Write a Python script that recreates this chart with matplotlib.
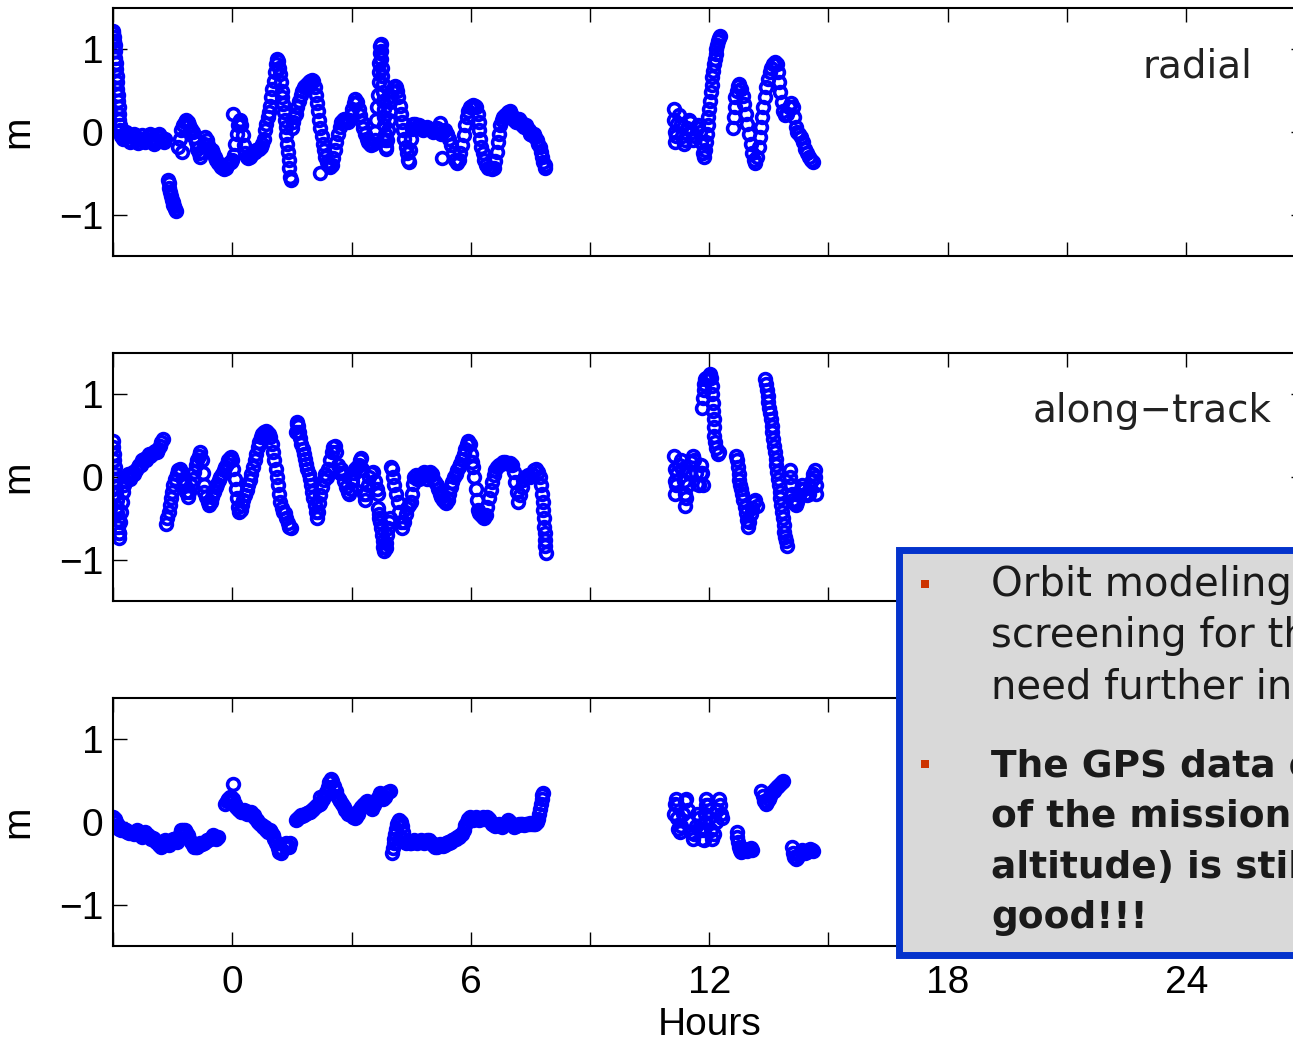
import numpy as np
import matplotlib
matplotlib.use("Agg")
import matplotlib.pyplot as plt
from matplotlib.patches import Rectangle

plt.rcParams['font.family'] = ['Liberation Sans', 'DejaVu Sans']

# (hour, metres)
radial = [
    (-3.00, 1.22), (-2.99, 1.20), (-2.98, 1.15), (-2.97, 1.10), (-2.96, 1.05), (-2.95, 0.98), (-2.94, 0.90),
    (-2.93, 0.84), (-2.92, 0.76), (-2.91, 0.68), (-2.90, 0.60), (-2.89, 0.52), (-2.88, 0.45), (-2.87, 0.38),
    (-2.86, 0.30), (-2.85, 0.22), (-2.84, 0.15), (-2.83, 0.08), (-2.82, 0.02), (-2.80, -0.05), (-2.76, -0.08),
    (-2.72, -0.02), (-2.68, 0.00), (-2.64, -0.05), (-2.60, -0.10), (-2.56, -0.12), (-2.52, -0.06), (-2.48, -0.02),
    (-2.44, -0.05), (-2.40, -0.10), (-2.36, -0.13), (-2.32, -0.08), (-2.28, -0.04), (-2.24, -0.08), (-2.20, -0.12),
    (-2.16, -0.10), (-2.12, -0.05), (-2.08, -0.03), (-2.04, -0.08), (-2.00, -0.12), (-1.96, -0.14), (-1.92, -0.10),
    (-1.88, -0.05), (-1.84, -0.02), (-1.80, -0.06), (-1.76, -0.10), (-1.72, -0.12), (-1.68, -0.08),
    (-1.62, -0.58), (-1.60, -0.62), (-1.58, -0.68), (-1.56, -0.72), (-1.54, -0.78), (-1.52, -0.82), (-1.50, -0.85),
    (-1.48, -0.88), (-1.46, -0.90), (-1.44, -0.93), (-1.42, -0.96),
    (-1.36, -0.18), (-1.32, -0.08), (-1.28, 0.02), (-1.24, 0.08), (-1.20, 0.12), (-1.16, 0.14), (-1.12, 0.12),
    (-1.08, 0.08), (-1.04, 0.04), (-1.00, 0.00), (-0.96, -0.06), (-0.92, -0.12), (-0.88, -0.20), (-0.84, -0.26),
    (-0.80, -0.30), (-0.76, -0.24), (-0.72, -0.14), (-0.68, -0.06), (-0.64, -0.10), (-0.60, -0.16), (-0.56, -0.20),
    (-0.52, -0.22), (-0.48, -0.25), (-0.44, -0.30), (-0.40, -0.34), (-0.36, -0.38), (-0.32, -0.40), (-0.28, -0.42),
    (-0.24, -0.44), (-0.20, -0.45), (-0.16, -0.43), (-0.12, -0.40), (-0.08, -0.38), (-0.04, -0.36), (0.00, -0.34),
    (0.04, -0.28), (0.08, -0.15), (0.11, -0.02), (0.14, 0.08), (0.17, 0.12), (0.20, 0.14), (0.23, 0.08),
    (0.26, -0.04), (0.29, -0.16), (0.32, -0.25), (0.36, -0.30), (0.40, -0.32), (0.44, -0.30), (0.48, -0.28),
    (0.52, -0.26), (0.56, -0.24), (0.60, -0.22), (0.64, -0.20), (0.68, -0.20), (0.72, -0.18), (0.76, -0.14),
    (0.80, -0.08), (0.83, 0.02), (0.86, 0.10), (0.89, 0.18), (0.92, 0.24), (0.95, 0.32), (0.98, 0.42),
    (1.01, 0.52), (1.04, 0.62), (1.07, 0.72), (1.10, 0.82), (1.13, 0.88), (1.16, 0.86), (1.18, 0.78),
    (1.20, 0.70), (1.22, 0.60), (1.24, 0.50), (1.26, 0.42), (1.28, 0.34), (1.30, 0.24), (1.32, 0.15),
    (1.34, 0.06), (1.36, -0.04), (1.38, -0.14), (1.40, -0.24), (1.42, -0.34), (1.44, -0.44), (1.46, -0.54),
    (1.47, -0.58), (-1.26, -0.24), (0.02, 0.22),
    (1.50, 0.05), (1.53, 0.12), (1.56, 0.18), (1.60, 0.22), (1.64, 0.30), (1.68, 0.38), (1.72, 0.45),
    (1.76, 0.50), (1.80, 0.54), (1.84, 0.56), (1.88, 0.58), (1.92, 0.60), (1.96, 0.62), (2.00, 0.63),
    (2.04, 0.62), (2.07, 0.55), (2.10, 0.45), (2.13, 0.35), (2.16, 0.25), (2.19, 0.15), (2.22, 0.05),
    (2.25, -0.05), (2.28, -0.14), (2.31, -0.22), (2.34, -0.30), (2.38, -0.36), (2.42, -0.40), (2.46, -0.42),
    (2.50, -0.40), (2.54, -0.32), (2.58, -0.22), (2.62, -0.12), (2.66, -0.02), (2.70, 0.06), (2.74, 0.12),
    (2.78, 0.15), (2.82, 0.16), (2.86, 0.14), (2.90, 0.12), (2.94, 0.15), (2.98, 0.20), (3.02, 0.28),
    (3.06, 0.35), (3.10, 0.40), (3.14, 0.36), (3.18, 0.28), (3.22, 0.20), (3.26, 0.12), (3.30, 0.05),
    (3.34, -0.02), (3.38, -0.08), (3.42, -0.12), (3.46, -0.15), (3.50, -0.16), (3.54, -0.14), (3.58, -0.10),
    (3.60, 0.00), (3.62, 0.15), (3.64, 0.30), (3.66, 0.45), (3.68, 0.60), (3.69, 0.72), (3.70, 0.84),
    (3.71, 0.95), (3.72, 1.04), (3.73, 1.06), (3.74, 0.98), (3.75, 0.88), (3.76, 0.78), (3.77, 0.68),
    (3.78, 0.58), (3.79, 0.48), (3.80, 0.38), (3.81, 0.28), (3.82, 0.18), (3.83, 0.08), (3.84, -0.02),
    (3.85, -0.10), (3.86, -0.18), (3.88, -0.20), (3.90, -0.10), (3.92, 0.02), (3.94, 0.14), (3.96, 0.26),
    (3.98, 0.36), (4.00, 0.44), (4.03, 0.50), (4.06, 0.54), (4.09, 0.56), (4.12, 0.55), (4.15, 0.50),
    (4.18, 0.42), (4.21, 0.32), (4.24, 0.22), (4.27, 0.12), (4.30, 0.02), (4.33, -0.08), (4.36, -0.18),
    (4.39, -0.26), (4.42, -0.34), (4.45, -0.36), (4.48, -0.22), (4.50, -0.08), (4.52, 0.04), (4.55, 0.10),
    (4.60, 0.10), (4.65, 0.06), (4.70, 0.08), (4.75, 0.04), (4.80, 0.02), (4.85, 0.05), (4.90, 0.06),
    (4.95, 0.04), (5.00, 0.02), (5.05, 0.00), (5.10, 0.04), (5.15, 0.05), (5.20, 0.02), (5.25, -0.02),
    (5.30, 0.00), (5.35, 0.02), (5.40, -0.02), (5.45, -0.08), (5.50, -0.16), (5.55, -0.26), (5.60, -0.34),
    (5.65, -0.37), (5.70, -0.34), (5.74, -0.26), (5.78, -0.16), (5.82, -0.04), (5.86, 0.08), (5.90, 0.18),
    (5.94, 0.26), (5.98, 0.30), (6.02, 0.32), (6.06, 0.33), (6.10, 0.32), (6.14, 0.30), (6.17, 0.22),
    (6.20, 0.12), (6.22, 0.02), (6.24, -0.08), (6.27, -0.18), (6.30, -0.26), (6.34, -0.34), (6.38, -0.40),
    (6.43, -0.43), (6.48, -0.44), (6.53, -0.45), (6.58, -0.44), (6.62, -0.35), (6.65, -0.24), (6.68, -0.12),
    (6.71, -0.02), (6.74, 0.08), (6.78, 0.14), (6.82, 0.18), (6.86, 0.20), (6.90, 0.22), (6.94, 0.24),
    (6.98, 0.25), (7.02, 0.22), (7.06, 0.18), (7.10, 0.14), (7.14, 0.12), (7.18, 0.14), (7.22, 0.16),
    (7.26, 0.12), (7.30, 0.08), (7.34, 0.06), (7.38, 0.08), (7.42, 0.05), (7.46, 0.02), (7.50, -0.02),
    (7.54, -0.04), (7.58, -0.02), (7.62, -0.06), (7.66, -0.10), (7.70, -0.14), (7.74, -0.18), (7.77, -0.24),
    (7.80, -0.30), (7.83, -0.36), (7.86, -0.40), (7.88, -0.44),
    (2.21, -0.50), (5.23, 0.11), (5.28, -0.31),
    (11.12, 0.28), (11.12, 0.15), (11.13, 0.00), (11.14, -0.12), (11.16, -0.05), (11.20, 0.10), (11.24, 0.20),
    (11.28, 0.10), (11.32, -0.05), (11.36, -0.15), (11.40, -0.10), (11.44, 0.05), (11.48, 0.15), (11.52, 0.12),
    (11.56, 0.00), (11.60, -0.10), (11.64, -0.05), (11.68, 0.05), (11.72, 0.08), (11.76, 0.00), (11.80, -0.12),
    (11.84, -0.25), (11.87, -0.30), (11.90, -0.22), (11.92, -0.12), (11.94, -0.02), (11.96, 0.08), (11.98, 0.18),
    (12.00, 0.28), (12.02, 0.38), (12.04, 0.48), (12.06, 0.57), (12.08, 0.66), (12.10, 0.74), (12.12, 0.82),
    (12.14, 0.88), (12.16, 0.94), (12.18, 1.00), (12.20, 1.05), (12.22, 1.10), (12.25, 1.14), (12.27, 1.16),
    (12.60, 0.05), (12.62, 0.18), (12.64, 0.30), (12.66, 0.42), (12.69, 0.50), (12.72, 0.56), (12.76, 0.58),
    (12.80, 0.52), (12.84, 0.44), (12.88, 0.34), (12.92, 0.22), (12.96, 0.10), (13.00, -0.02), (13.04, -0.14),
    (13.08, -0.26), (13.12, -0.34), (13.16, -0.37), (13.20, -0.30), (13.24, -0.18), (13.27, -0.06), (13.30, 0.06),
    (13.33, 0.18), (13.36, 0.30), (13.40, 0.42), (13.44, 0.54), (13.48, 0.64), (13.52, 0.72), (13.56, 0.78),
    (13.60, 0.82), (13.65, 0.85), (13.70, 0.82), (13.73, 0.72), (13.76, 0.60), (13.79, 0.48), (13.82, 0.36),
    (13.85, 0.26), (13.90, 0.20), (13.95, 0.22), (14.00, 0.30), (14.05, 0.35), (14.10, 0.30), (14.14, 0.18),
    (14.18, 0.06), (14.22, 0.00), (14.26, -0.02), (14.30, -0.06), (14.35, -0.12), (14.40, -0.20), (14.45, -0.26),
    (14.50, -0.30), (14.55, -0.34), (14.60, -0.36),
]

along = [
    (-3.00, 0.44), (-2.99, 0.36), (-2.98, 0.28), (-2.97, 0.20), (-2.96, 0.12), (-2.95, 0.04), (-2.94, -0.04),
    (-2.93, -0.12), (-2.92, -0.20), (-2.91, -0.28), (-2.90, -0.36), (-2.89, -0.44), (-2.88, -0.52), (-2.87, -0.60),
    (-2.86, -0.68), (-2.85, -0.74), (-2.84, -0.68), (-2.82, -0.55), (-2.80, -0.42), (-2.78, -0.30), (-2.76, -0.18),
    (-2.73, -0.10), (-2.70, -0.05), (-2.66, 0.00), (-2.62, 0.04), (-2.58, -0.02), (-2.54, 0.02), (-2.50, 0.06),
    (-2.46, 0.04), (-2.42, 0.08), (-2.38, 0.12), (-2.34, 0.15), (-2.30, 0.14), (-2.26, 0.20), (-2.22, 0.22),
    (-2.18, 0.20), (-2.14, 0.24), (-2.10, 0.28), (-2.06, 0.26), (-2.02, 0.28), (-1.98, 0.30), (-1.94, 0.32),
    (-1.90, 0.30), (-1.86, 0.34), (-1.82, 0.38), (-1.78, 0.42), (-1.75, 0.46),
    (-1.66, -0.57), (-1.63, -0.50), (-1.60, -0.42), (-1.57, -0.34), (-1.54, -0.26), (-1.51, -0.18), (-1.48, -0.10),
    (-1.44, -0.02), (-1.40, 0.04), (-1.36, 0.08), (-1.32, 0.10), (-1.28, 0.06), (-1.24, -0.02), (-1.20, -0.10),
    (-1.16, -0.18), (-1.12, -0.24), (-1.08, -0.18), (-1.04, -0.10), (-1.00, -0.02), (-0.96, 0.06), (-0.92, 0.14),
    (-0.88, 0.20), (-0.84, 0.26), (-0.80, 0.30), (-0.77, 0.20), (-0.74, 0.05), (-0.72, -0.10), (-0.70, -0.18),
    (-0.66, -0.24), (-0.62, -0.30), (-0.58, -0.34), (-0.54, -0.30), (-0.50, -0.24), (-0.46, -0.18), (-0.42, -0.12),
    (-0.38, -0.08), (-0.34, -0.04), (-0.30, 0.00), (-0.26, 0.04), (-0.22, 0.08), (-0.18, 0.12), (-0.14, 0.16),
    (-0.10, 0.20), (-0.06, 0.23), (-0.03, 0.24), (0.00, 0.20), (0.03, 0.10), (0.06, -0.02), (0.09, -0.14),
    (0.12, -0.26), (0.15, -0.36), (0.18, -0.42), (0.21, -0.40), (0.24, -0.34), (0.28, -0.28), (0.32, -0.22),
    (0.36, -0.16), (0.40, -0.10), (0.44, -0.04), (0.48, 0.04), (0.52, 0.12), (0.56, 0.20), (0.60, 0.28),
    (0.64, 0.36), (0.68, 0.42), (0.72, 0.48), (0.76, 0.52), (0.80, 0.55), (0.84, 0.56), (0.88, 0.55),
    (0.92, 0.52), (0.96, 0.48), (1.00, 0.40), (1.03, 0.30), (1.06, 0.20), (1.09, 0.10), (1.12, 0.00),
    (1.15, -0.10), (1.18, -0.20), (1.21, -0.30), (1.24, -0.38), (1.28, -0.42), (1.32, -0.44), (1.36, -0.50),
    (1.40, -0.56), (1.44, -0.60), (1.47, -0.62),
    (1.60, 0.55), (1.62, 0.64), (1.64, 0.67), (1.66, 0.62), (1.68, 0.55), (1.71, 0.47), (1.74, 0.40),
    (1.77, 0.34), (1.80, 0.28), (1.83, 0.22), (1.86, 0.16), (1.89, 0.10), (1.92, 0.04), (1.95, -0.02),
    (1.98, -0.10), (2.01, -0.18), (2.04, -0.26), (2.07, -0.34), (2.10, -0.42), (2.13, -0.50), (2.16, -0.42),
    (2.19, -0.32), (2.22, -0.22), (2.26, -0.12), (2.30, -0.04), (2.34, 0.04), (2.38, 0.00), (2.42, 0.10),
    (2.46, 0.20), (2.50, 0.30), (2.54, 0.36), (2.58, 0.38), (2.62, 0.30), (2.66, 0.15), (2.70, 0.05),
    (2.74, 0.10), (2.78, 0.05), (2.82, -0.05), (2.86, -0.12), (2.90, -0.18), (2.94, -0.20), (2.98, -0.15),
    (3.02, -0.05), (3.06, 0.05), (3.10, 0.10), (3.14, 0.12), (3.18, 0.15), (3.22, 0.20), (3.25, 0.23),
    (3.27, 0.10), (3.29, -0.05), (3.31, -0.20), (3.33, -0.28), (3.37, -0.20), (3.41, -0.10), (3.45, 0.00),
    (3.50, 0.05), (3.55, 0.06), (3.60, -0.05), (3.64, -0.15), (3.67, -0.20),
    (3.66, -0.37), (3.68, -0.45), (3.70, -0.50), (3.72, -0.55), (3.74, -0.62), (3.76, -0.70), (3.78, -0.78),
    (3.80, -0.85), (3.82, -0.90), (3.86, -0.86), (3.88, -0.80), (3.90, -0.70), (3.92, -0.62), (3.94, -0.55),
    (3.96, -0.50),
    (4.00, 0.12), (4.02, 0.10), (4.05, 0.00), (4.08, -0.10), (4.12, -0.20), (4.16, -0.30), (4.20, -0.42),
    (4.24, -0.55), (4.28, -0.62), (4.32, -0.55), (4.36, -0.45), (4.40, -0.38), (4.45, -0.34), (4.50, -0.30),
    (4.53, -0.20), (4.55, -0.08), (4.58, 0.00), (4.62, 0.02), (4.66, -0.02), (4.70, -0.03), (4.74, 0.00),
    (4.78, 0.04), (4.82, 0.06), (4.86, 0.02), (4.90, -0.02), (4.94, 0.02), (4.98, 0.06), (5.02, 0.04),
    (5.06, -0.02), (5.10, -0.06), (5.14, -0.10), (5.18, -0.14), (5.22, -0.20), (5.26, -0.24), (5.30, -0.28),
    (5.34, -0.30), (5.38, -0.32), (5.42, -0.28), (5.46, -0.20), (5.50, -0.12), (5.54, -0.06), (5.58, 0.00),
    (5.62, 0.04), (5.66, 0.08), (5.70, 0.12), (5.74, 0.16), (5.78, 0.22), (5.82, 0.28), (5.86, 0.34),
    (5.90, 0.40), (5.94, 0.44), (5.97, 0.40), (6.00, 0.28), (6.03, 0.18), (6.06, 0.12), (6.09, 0.00),
    (6.12, -0.14), (6.15, -0.28), (6.18, -0.40), (6.22, -0.44), (6.26, -0.46), (6.30, -0.48), (6.34, -0.50),
    (6.38, -0.46), (6.42, -0.36), (6.46, -0.26), (6.50, -0.16), (6.54, -0.06), (6.58, 0.02), (6.62, 0.08),
    (6.66, 0.12), (6.70, 0.14), (6.75, 0.16), (6.80, 0.18), (6.85, 0.18), (6.90, 0.17), (6.95, 0.16),
    (7.00, 0.17), (7.04, 0.15), (7.08, 0.06), (7.12, -0.06), (7.16, -0.18), (7.20, -0.30), (7.24, -0.22),
    (7.28, -0.12), (7.32, -0.04), (7.36, 0.00), (7.40, 0.00), (7.45, 0.02), (7.50, 0.00), (7.55, 0.04),
    (7.60, 0.08), (7.65, 0.10), (7.70, 0.06), (7.74, 0.00), (7.77, -0.10), (7.80, -0.20), (7.82, -0.30),
    (7.83, -0.40), (7.84, -0.50), (7.85, -0.60), (7.86, -0.68), (7.87, -0.76), (7.88, -0.84), (7.89, -0.92),
    (11.12, 0.25), (11.13, 0.10), (11.14, -0.05), (11.15, -0.20), (11.17, -0.10), (11.20, 0.05), (11.24, 0.15),
    (11.28, 0.20), (11.32, 0.10), (11.36, -0.05), (11.38, -0.20), (11.40, -0.35), (11.42, -0.25), (11.46, -0.10),
    (11.50, 0.05), (11.54, 0.18), (11.58, 0.25), (11.62, 0.20), (11.66, 0.05), (11.70, -0.08), (11.74, -0.10),
    (11.78, 0.05), (11.80, 0.15), (11.82, 0.05), (11.84, -0.10),
    (11.82, 0.83), (11.84, 0.95), (11.86, 1.05), (11.88, 1.12), (11.90, 1.18), (11.93, 1.20), (11.96, 1.18),
    (11.99, 1.22), (12.02, 1.25), (12.05, 1.20), (12.07, 1.10), (12.08, 1.00), (12.09, 0.90), (12.10, 0.80),
    (12.11, 0.70), (12.12, 0.60), (12.13, 0.50), (12.15, 0.42), (12.18, 0.35), (12.22, 0.28), (12.25, 0.30),
    (12.68, 0.25), (12.70, 0.20), (12.72, 0.12), (12.74, 0.04), (12.76, -0.04), (12.78, -0.10), (12.80, -0.14),
    (12.83, -0.20), (12.86, -0.28), (12.89, -0.36), (12.92, -0.44), (12.95, -0.52), (12.98, -0.60), (13.01, -0.55),
    (13.04, -0.45), (13.08, -0.38), (13.12, -0.30), (13.16, -0.28), (13.20, -0.35),
    (13.41, 1.18), (13.43, 1.12), (13.45, 1.05), (13.47, 0.98), (13.49, 0.91), (13.51, 0.84), (13.53, 0.77),
    (13.55, 0.70), (13.57, 0.62), (13.59, 0.54), (13.61, 0.46), (13.63, 0.38), (13.65, 0.30), (13.67, 0.22),
    (13.69, 0.14), (13.71, 0.06), (13.73, -0.02), (13.75, -0.10), (13.77, -0.18), (13.79, -0.26), (13.81, -0.34),
    (13.83, -0.42), (13.85, -0.50), (13.87, -0.58), (13.89, -0.66), (13.91, -0.72), (13.93, -0.78), (13.95, -0.84),
    (14.02, 0.08), (14.04, 0.00), (14.06, -0.10), (14.08, -0.20), (14.10, -0.28), (14.14, -0.32), (14.18, -0.34),
    (14.22, -0.30), (14.26, -0.22), (14.30, -0.15), (14.34, -0.10), (14.38, -0.15), (14.42, -0.20), (14.46, -0.22),
    (14.50, -0.20), (14.54, -0.12), (14.58, -0.04), (14.62, 0.04), (14.65, 0.08), (14.67, 0.00), (14.68, -0.10),
    (14.69, -0.20),
]

cross = [
    (-3.00, 0.06), (-2.96, 0.04), (-2.92, 0.00), (-2.88, -0.04), (-2.84, -0.08), (-2.80, -0.10), (-2.76, -0.10),
    (-2.72, -0.08), (-2.68, -0.10), (-2.64, -0.12), (-2.60, -0.13), (-2.56, -0.12), (-2.52, -0.13), (-2.48, -0.14),
    (-2.44, -0.12), (-2.40, -0.10), (-2.36, -0.12), (-2.32, -0.16), (-2.28, -0.18), (-2.24, -0.15), (-2.20, -0.12),
    (-2.16, -0.14), (-2.12, -0.16), (-2.08, -0.18), (-2.04, -0.20), (-2.00, -0.19), (-1.96, -0.20), (-1.92, -0.24),
    (-1.88, -0.26), (-1.84, -0.28), (-1.80, -0.30), (-1.76, -0.28), (-1.72, -0.25), (-1.68, -0.22), (-1.64, -0.24),
    (-1.60, -0.28), (-1.56, -0.26), (-1.52, -0.22), (-1.48, -0.20), (-1.44, -0.22), (-1.40, -0.24), (-1.36, -0.20),
    (-1.32, -0.14), (-1.28, -0.10), (-1.24, -0.10), (-1.20, -0.10), (-1.16, -0.12), (-1.12, -0.16), (-1.08, -0.20),
    (-1.04, -0.24), (-1.00, -0.28), (-0.96, -0.30), (-0.92, -0.30), (-0.88, -0.30), (-0.84, -0.28), (-0.80, -0.26),
    (-0.76, -0.27), (-0.72, -0.26), (-0.68, -0.24), (-0.64, -0.22), (-0.60, -0.22), (-0.56, -0.20), (-0.52, -0.18),
    (-0.48, -0.16), (-0.44, -0.18), (-0.40, -0.20), (-0.36, -0.18),
    (-0.18, 0.22), (-0.14, 0.26), (-0.10, 0.28), (-0.06, 0.30), (-0.02, 0.30), (0.02, 0.28), (0.06, 0.22),
    (0.10, 0.18), (0.14, 0.16), (0.18, 0.14), (0.22, 0.12), (0.26, 0.12), (0.30, 0.14), (0.34, 0.13),
    (0.38, 0.10), (0.42, 0.10), (0.46, 0.12), (0.50, 0.10), (0.54, 0.08), (0.58, 0.05), (0.62, 0.02),
    (0.66, 0.00), (0.70, -0.02), (0.74, -0.04), (0.78, -0.06), (0.82, -0.06), (0.86, -0.10), (0.90, -0.12),
    (0.94, -0.10), (0.98, -0.12), (1.02, -0.16), (1.06, -0.20), (1.10, -0.26), (1.14, -0.32), (1.18, -0.36),
    (1.22, -0.38), (1.26, -0.34), (1.30, -0.28), (1.34, -0.25), (1.38, -0.28), (1.42, -0.30), (1.46, -0.26),
    (0.03, 0.46),
    (1.60, 0.02), (1.64, 0.04), (1.68, 0.06), (1.72, 0.08), (1.76, 0.07), (1.80, 0.08), (1.84, 0.10),
    (1.88, 0.11), (1.92, 0.12), (1.96, 0.12), (2.00, 0.14), (2.04, 0.16), (2.08, 0.18), (2.12, 0.20),
    (2.16, 0.21), (2.20, 0.22), (2.24, 0.24), (2.28, 0.28), (2.32, 0.32), (2.36, 0.36), (2.40, 0.42),
    (2.44, 0.48), (2.48, 0.52), (2.52, 0.50), (2.56, 0.44), (2.60, 0.38), (2.64, 0.32), (2.68, 0.28),
    (2.72, 0.26), (2.76, 0.22), (2.80, 0.18), (2.84, 0.14), (2.88, 0.12), (2.92, 0.10), (2.96, 0.10),
    (3.00, 0.08), (3.04, 0.06), (3.08, 0.05), (3.12, 0.06), (3.16, 0.10), (3.20, 0.14), (3.24, 0.18),
    (3.28, 0.20), (3.32, 0.22), (3.36, 0.24), (3.40, 0.26), (3.44, 0.22), (3.48, 0.18), (3.52, 0.16),
    (3.56, 0.20), (3.60, 0.24), (3.64, 0.28), (3.68, 0.32), (3.72, 0.35), (3.76, 0.32), (3.80, 0.28),
    (3.84, 0.30), (3.88, 0.34), (3.92, 0.36), (2.21, 0.30), (3.97, 0.38),
    (4.02, -0.37), (4.04, -0.32), (4.06, -0.26), (4.08, -0.20), (4.10, -0.14), (4.12, -0.08), (4.14, -0.03),
    (4.16, 0.00), (4.20, 0.02), (4.24, 0.00), (4.28, -0.05), (4.30, -0.12), (4.32, -0.20), (4.34, -0.24),
    (4.38, -0.25), (4.42, -0.24), (4.46, -0.26), (4.50, -0.25), (4.54, -0.24), (4.58, -0.22), (4.62, -0.24),
    (4.66, -0.25), (4.70, -0.23), (4.74, -0.22), (4.78, -0.24), (4.82, -0.25), (4.86, -0.24), (4.90, -0.22),
    (4.94, -0.22), (4.98, -0.24), (5.02, -0.26), (5.06, -0.28), (5.10, -0.30), (5.14, -0.30), (5.18, -0.28),
    (5.22, -0.27), (5.26, -0.28), (5.30, -0.29), (5.34, -0.28), (5.38, -0.26), (5.42, -0.24), (5.46, -0.25),
    (5.50, -0.24), (5.54, -0.22), (5.58, -0.20), (5.62, -0.20), (5.66, -0.18), (5.70, -0.18), (5.74, -0.16),
    (5.78, -0.14), (5.82, -0.10), (5.86, -0.04), (5.90, 0.00), (5.94, 0.04), (5.98, 0.06), (6.02, 0.04),
    (6.06, 0.02), (6.10, 0.04), (6.14, 0.06), (6.18, 0.05), (6.22, 0.02), (6.26, 0.04), (6.30, 0.06),
    (6.34, 0.04), (6.38, 0.05), (6.42, 0.06), (6.46, 0.04), (6.50, 0.00), (6.54, -0.02), (6.58, -0.04),
    (6.62, -0.05), (6.66, -0.04), (6.70, -0.02), (6.74, -0.04), (6.78, -0.06), (6.82, -0.04), (6.86, -0.02),
    (6.90, 0.00), (6.94, 0.02), (6.98, 0.00), (7.02, -0.02), (7.06, -0.04), (7.10, -0.06), (7.14, -0.05),
    (7.18, -0.04), (7.22, -0.03), (7.26, -0.02), (7.30, -0.03), (7.34, -0.04), (7.38, -0.03), (7.42, -0.02),
    (7.46, -0.02), (7.50, -0.01), (7.54, -0.02), (7.58, -0.03), (7.62, -0.02), (7.66, 0.00), (7.70, 0.04),
    (7.72, 0.10), (7.74, 0.16), (7.76, 0.22), (7.78, 0.28), (7.80, 0.33), (7.82, 0.35),
    (11.12, 0.10), (11.14, 0.22), (11.16, 0.28), (11.18, 0.20), (11.20, 0.05), (11.22, -0.08), (11.26, -0.12),
    (11.30, -0.05), (11.34, 0.10), (11.38, 0.25), (11.42, 0.28), (11.46, 0.15), (11.50, 0.00), (11.54, -0.12),
    (11.58, -0.20), (11.62, -0.15), (11.66, -0.05), (11.70, 0.10), (11.74, 0.05), (11.78, -0.10), (11.82, -0.20),
    (11.86, -0.22), (11.88, -0.10), (11.89, 0.00), (11.90, 0.10), (11.91, 0.20), (11.92, 0.28), (11.96, 0.20),
    (12.00, 0.05), (12.04, -0.10), (12.08, -0.20), (12.12, -0.15), (12.16, 0.00), (12.20, 0.15), (12.24, 0.28),
    (12.28, 0.20), (12.30, 0.10), (12.32, 0.05),
    (12.70, -0.12), (12.71, -0.18), (12.72, -0.24), (12.74, -0.30), (12.77, -0.34), (12.80, -0.36), (12.84, -0.35),
    (12.88, -0.33), (12.92, -0.34), (12.96, -0.35), (13.00, -0.33), (13.04, -0.32), (13.08, -0.34),
    (13.30, 0.38), (13.34, 0.32), (13.38, 0.26), (13.42, 0.22), (13.46, 0.24), (13.50, 0.28), (13.54, 0.32),
    (13.58, 0.36), (13.62, 0.38), (13.66, 0.40), (13.70, 0.42), (13.74, 0.44), (13.78, 0.46), (13.82, 0.48),
    (13.86, 0.50),
    (14.08, -0.30), (14.10, -0.38), (14.14, -0.42), (14.18, -0.45), (14.22, -0.44), (14.26, -0.40), (14.30, -0.36),
    (14.34, -0.34), (14.38, -0.36), (14.42, -0.38), (14.46, -0.36), (14.50, -0.34), (14.54, -0.33), (14.58, -0.34),
    (14.62, -0.35),
]

panel_names = ['radial', 'along\u2212track', '']
xtick_hours = [-3, 0, 3, 6, 9, 12, 15, 18, 21, 24, 27]
xtick_labels = ['', '0', '', '6', '', '12', '', '18', '', '24', '']
ytick_vals = [-1, 0, 1]
ytick_labels = ['\u22121', '0', '1']

note_plain = ['Orbit modeling and data', 'screening for this period', 'need further investigation']
note_bold = ['The GPS data of the last part', 'of the mission (lowest', 'altitude) is still very', 'good!!!']

W, H = 1293, 1042


def fx(px):
    return px / W


def fy(py):
    return 1 - py / H


fig = plt.figure(figsize=(W / 100, H / 100), dpi=100)

panel_tops = [8, 353, 698]
data = [radial, along, cross]
axes = []
for i, (top, pts) in enumerate(zip(panel_tops, data)):
    ax = fig.add_axes([fx(113), fy(top + 248), 1192.5 / W, 248 / H])
    t, y = np.array(pts).T
    ax.plot(t, y, ls='none', marker='o', ms=8.5, mfc='none', mec='#0000ff', mew=2.6)
    ax.set_xlim(-3, 27)
    ax.set_ylim(-1.5, 1.5)
    ax.set_xticks(xtick_hours)
    ax.set_yticks(ytick_vals)
    ax.set_yticklabels(ytick_labels)
    if i == 2:
        ax.set_xticklabels(xtick_labels)
        ax.set_xlabel('Hours', fontsize=28, labelpad=4)
    else:
        ax.set_xticklabels([])
    ax.tick_params(direction='in', length=10, width=1, top=True, right=True,
                   labelsize=28, pad=7)
    ax.tick_params(axis='x', pad=14)
    for s in ax.spines.values():
        s.set_linewidth(1.5)
    ax.set_ylabel('m', fontsize=28)
    ax.yaxis.set_label_coords(-0.064, 0.5)
    axes.append(ax)

axes[0].text(25.66, 0.66, panel_names[0], ha='right', va='baseline', fontsize=28,
             family='DejaVu Sans', color='#222222')
axes[1].text(26.16, 0.66, panel_names[1], ha='right', va='baseline', fontsize=28,
             family='DejaVu Sans', color='#222222')

# note box laid over the lower panels
fig.add_artist(Rectangle((fx(899), fy(955)), fx(1400) - fx(899), fy(550) - fy(955),
                         transform=fig.transFigure, facecolor='#d9d9d9',
                         edgecolor='#0433cc', linewidth=5, zorder=5))
for by in [584, 764]:
    fig.add_artist(Rectangle((fx(921), fy(by + 4)), fx(8), 8 / H, transform=fig.transFigure,
                             facecolor='#cc3300', edgecolor='none', zorder=6))

for line, base in zip(note_plain, [596, 647.5, 699]):
    fig.text(fx(991), fy(base), line, ha='left', va='baseline', fontsize=29,
             family='DejaVu Sans', color='#1a1a1a', zorder=7)
for line, base in zip(note_bold, [777, 827, 878, 928]):
    fig.text(fx(991), fy(base), line, ha='left', va='baseline', fontsize=27,
             family='DejaVu Sans', fontweight='bold', color='#1a1a1a', zorder=7)

fig.savefig('out.png', dpi=100)
